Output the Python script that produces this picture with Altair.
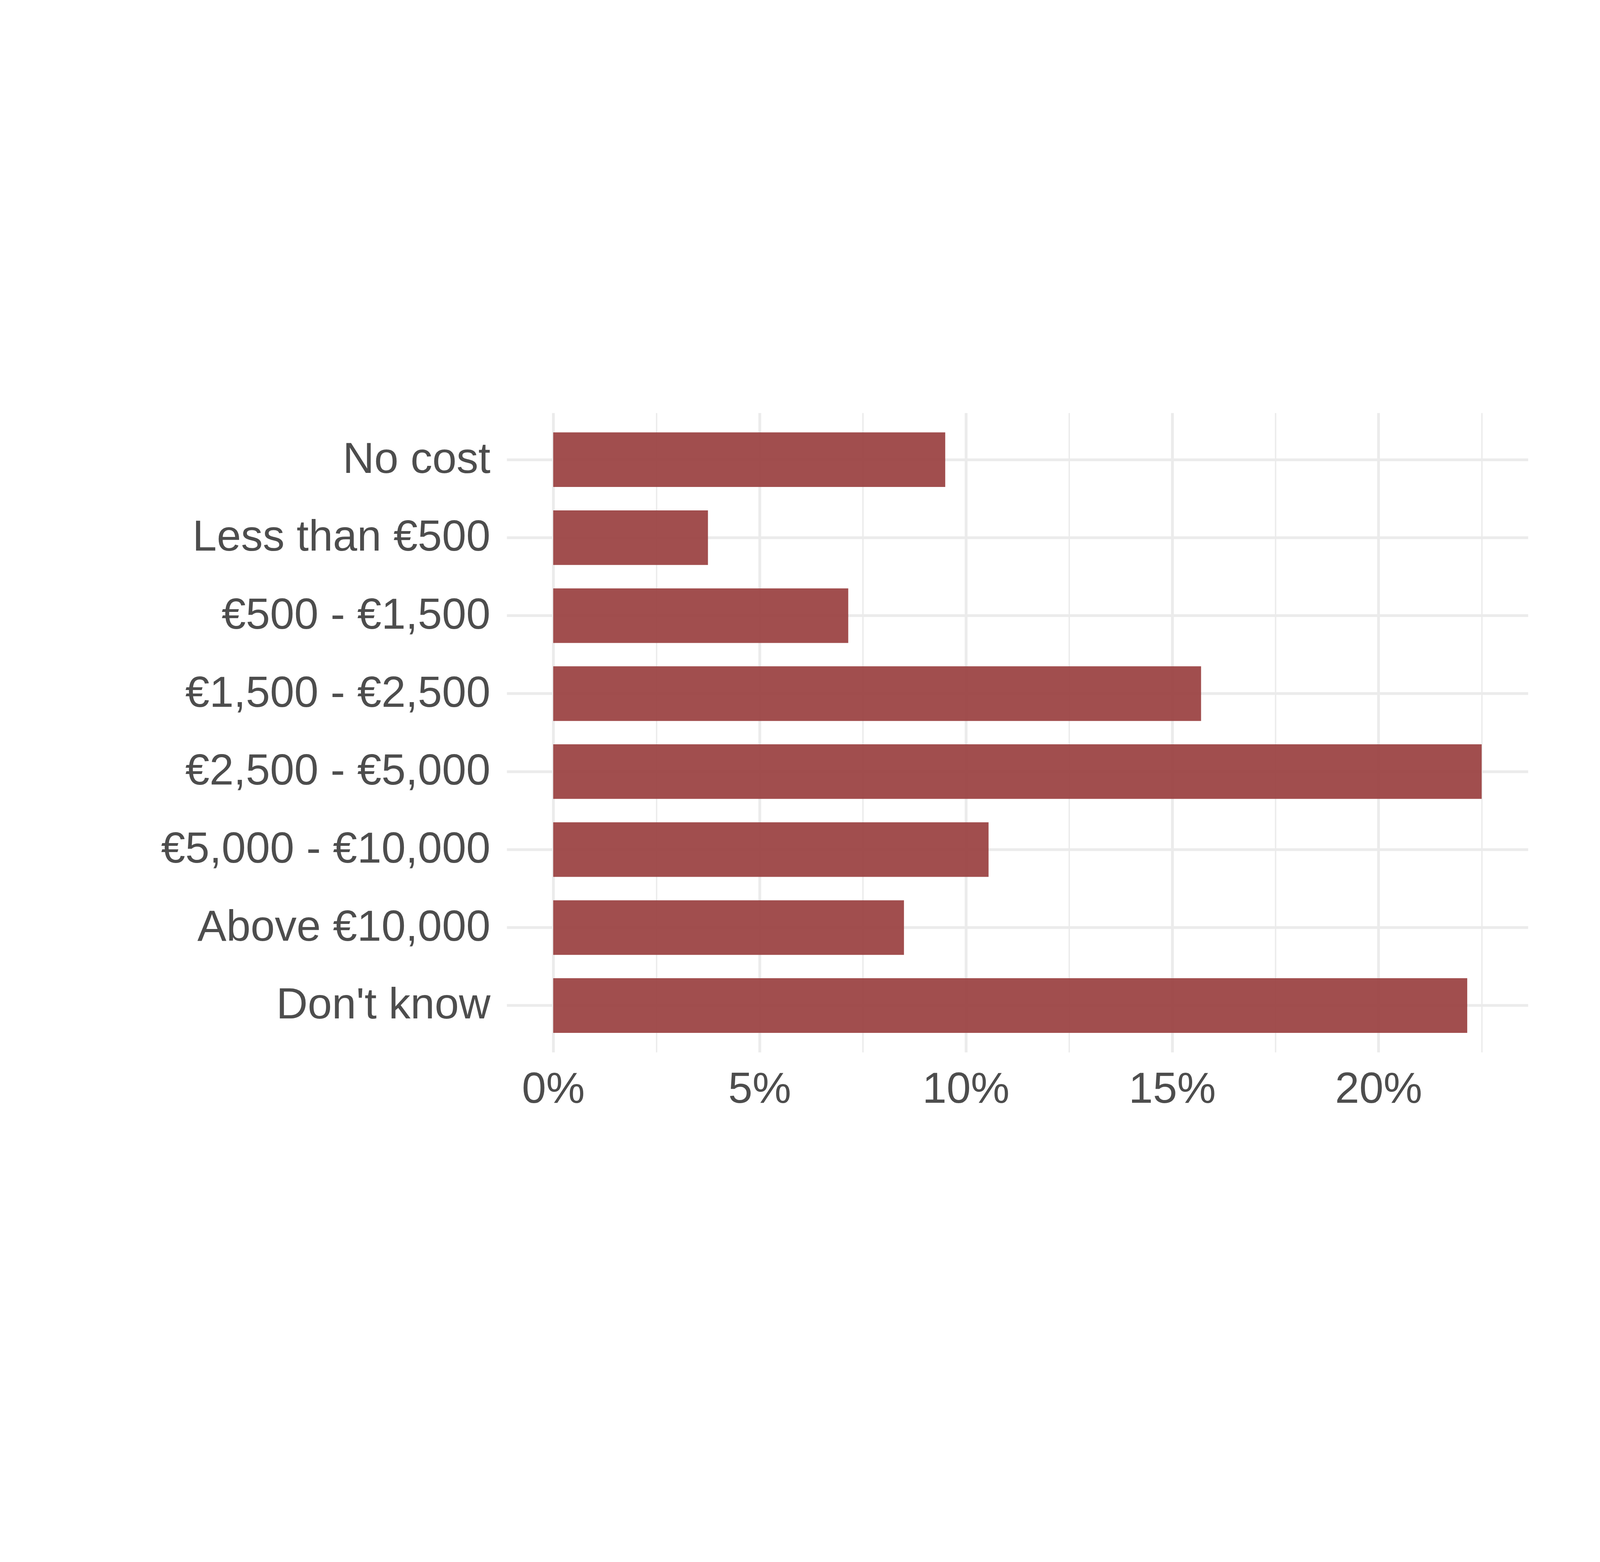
import altair as alt
import pandas as pd

categories = ["No cost", "Less than €500", "€500 - €1,500", "€1,500  - €2,500",
              "€2,500 - €5,000", "€5,000 - €10,000", "Above €10,000", "Don't know"]
shares = [9.5, 3.75, 7.15, 15.7, 22.5, 10.55, 8.5, 22.15]
tick_values = [0, 2.5, 5, 7.5, 10, 12.5, 15, 17.5, 20, 22.5]

df = pd.DataFrame({"cost": categories, "share": shares})

chart = alt.Chart(df).mark_bar(color="#993f3f", opacity=0.92).encode(
    x=alt.X("share:Q", scale=alt.Scale(domain=[-1.125, 23.625], nice=False, zero=False),
            axis=alt.Axis(title=None, values=tick_values,
                          labelExpr="datum.value % 5 == 0 ? datum.value + '%' : ''",
                          grid=True, gridColor="#ebebeb",
                          gridWidth={"condition": {"test": "datum.value % 5 == 0", "value": 12}, "value": 6},
                          ticks=False, domain=False, labelFontSize=190, labelColor="#4d4d4d",
                          labelFont="Liberation Sans", labelPadding=70, labelLimit=0)),
    y=alt.Y("cost:N", sort=categories,
            scale=alt.Scale(paddingInner=0.3, paddingOuter=0.25),
            axis=alt.Axis(title=None, grid=True, gridColor="#ebebeb", gridWidth=12,
                          ticks=False, domain=False, labelFontSize=190, labelColor="#4d4d4d",
                          labelFont="Liberation Sans", labelPadding=72, labelLimit=0)),
).properties(
    width=4455, height=2790,
    autosize=alt.AutoSizeParams(type="none"),
    padding={"left": 2197, "top": 388, "right": 300, "bottom": 800},
).configure_view(stroke=None)

chart.save("out.html", embed_options={"renderer": "svg", "actions": False})
